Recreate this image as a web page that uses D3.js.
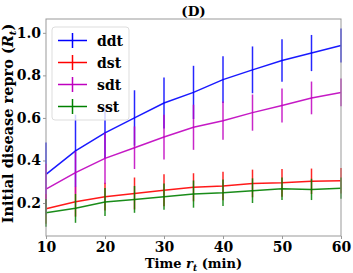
<!DOCTYPE html>
<html>
<head>
<meta charset="utf-8">
<script src="https://cdn.jsdelivr.net/npm/d3@7"></script>
<style>
  body { margin: 0; background: #fff; }
  svg text { font-family: "DejaVu Serif", serif; font-weight: bold; }
</style>
</head>
<body>
<div id="chart"></div>
<script>
// data
var times = [10, 15, 20, 25, 30, 35, 40, 45, 50, 55, 60];
var xTicks = [10, 20, 30, 40, 50, 60];
var yTicks = [0.2, 0.4, 0.6, 0.8, 1.0];

var ddt    = [0.335, 0.445, 0.53, 0.60, 0.67, 0.72, 0.78, 0.826, 0.87, 0.905, 0.94];
var ddtErr = [0.15, 0.17, 0.12, 0.13, 0.12, 0.125, 0.11, 0.11, 0.10, 0.085, 0.08];
var dst    = [0.173, 0.206, 0.23, 0.245, 0.26, 0.274, 0.28, 0.292, 0.295, 0.302, 0.305];
var dstErr = [0.07, 0.07, 0.065, 0.075, 0.075, 0.066, 0.067, 0.065, 0.065, 0.06, 0.06];
var sdt    = [0.265, 0.343, 0.41, 0.46, 0.51, 0.556, 0.587, 0.625, 0.658, 0.694, 0.72];
var sdtErr = [0.12, 0.10, 0.12, 0.10, 0.105, 0.106, 0.09, 0.085, 0.08, 0.077, 0.065];
var sst    = [0.154, 0.175, 0.205, 0.217, 0.23, 0.242, 0.248, 0.258, 0.267, 0.264, 0.27];
var sstErr = [0.065, 0.068, 0.066, 0.063, 0.062, 0.064, 0.062, 0.058, 0.053, 0.05, 0.05];

var series = [
    {name: "ddt", values: ddt, err: ddtErr, color: "#0000ff"},
    {name: "dst", values: dst, err: dstErr, color: "#ff0000"},
    {name: "sdt", values: sdt, err: sdtErr, color: "#bf00bf"},
    {name: "sst", values: sst, err: sstErr, color: "#008000"}
];

var W = 353, H = 273;
var margin = {top: 19, right: 12, bottom: 37, left: 46};
var width = W - margin.left - margin.right,
    height = H - margin.top - margin.bottom;

var svg = d3.select("#chart").append("svg")
    .attr("width", W)
    .attr("height", H);

var g = svg.append("g")
    .attr("transform", "translate(" + margin.left + "," + margin.top + ")");

var x = d3.scaleLinear().domain([10, 60]).range([0, width]);
var y = d3.scaleLinear().domain([0.045, 1.065]).range([height, 0]);

// axes
var xAxis = g.append("g")
    .attr("transform", "translate(0," + height + ")")
    .call(d3.axisBottom(x).tickValues(xTicks).tickSize(3).tickPadding(3).tickFormat(d3.format("d")));
var yAxis = g.append("g")
    .call(d3.axisLeft(y).tickValues(yTicks).tickSize(3).tickPadding(2).tickFormat(d3.format(".1f")));

[xAxis, yAxis].forEach(function(a) {
    a.select(".domain").remove();
    a.selectAll(".tick line").attr("stroke", "#999");
    a.selectAll(".tick text")
        .attr("fill", "#000")
        .style("font-size", "14px")
        .style("font-family", "DejaVu Serif");
});

// series: line then error bars
var line = d3.line()
    .x(function(d, i) { return x(times[i]); })
    .y(function(d) { return y(d); });

var plot = g.append("g");

series.forEach(function(s) {
    var sg = plot.append("g").attr("class", "series");
    sg.append("path")
        .datum(s.values)
        .attr("fill", "none")
        .attr("stroke", s.color)
        .attr("stroke-width", 1.5)
        .attr("stroke-opacity", 0.9)
        .attr("d", line);
    sg.selectAll("line.err")
        .data(s.values)
        .enter().append("line")
        .attr("class", "err")
        .attr("x1", function(d, i) { return x(times[i]); })
        .attr("x2", function(d, i) { return x(times[i]); })
        .attr("y1", function(d, i) { return y(d - s.err[i]); })
        .attr("y2", function(d, i) { return y(d + s.err[i]); })
        .attr("stroke", s.color)
        .attr("stroke-width", 1.5)
        .attr("stroke-opacity", 0.85);
});

// frame
g.append("rect")
    .attr("width", width)
    .attr("height", height)
    .attr("fill", "none")
    .attr("stroke", "#999")
    .attr("stroke-width", 1);

// legend
var legend = g.append("g").attr("transform", "translate(6,8)");
legend.append("rect")
    .attr("width", 77)
    .attr("height", 93)
    .attr("rx", 3)
    .attr("fill", "#fff")
    .attr("fill-opacity", 0.8)
    .attr("stroke", "#ddd");

var item = legend.selectAll("g.item")
    .data(series)
    .enter().append("g")
    .attr("class", "item")
    .attr("transform", function(d, i) { return "translate(0," + (13.5 + i * 22) + ")"; });

item.append("line")
    .attr("x1", 6).attr("x2", 35)
    .attr("stroke", function(d) { return d.color; })
    .attr("stroke-width", 1.5);
item.append("line")
    .attr("x1", 20.5).attr("x2", 20.5)
    .attr("y1", -7.5).attr("y2", 7.5)
    .attr("stroke", function(d) { return d.color; })
    .attr("stroke-width", 1.5);
item.append("text")
    .attr("x", 45)
    .attr("y", 5)
    .style("font-size", "14px")
    .text(function(d) { return d.name; });

// title
svg.append("text")
    .attr("x", margin.left + width / 2)
    .attr("y", 16)
    .attr("text-anchor", "middle")
    .style("font-size", "13.5px")
    .text("(D)");

// x label
var xl = svg.append("text")
    .attr("x", margin.left + width / 2)
    .attr("y", 268)
    .attr("text-anchor", "middle")
    .style("font-size", "13px");
xl.append("tspan").text("Time ");
xl.append("tspan").style("font-style", "italic").text("r");
xl.append("tspan").attr("dy", 3).style("font-style", "italic").style("font-size", "9px").text("t");
xl.append("tspan").attr("dy", -3).text(" (min)");

// y label
var yl = svg.append("text")
    .attr("transform", "translate(13," + (margin.top + height / 2 - 4) + ")rotate(-90)")
    .attr("text-anchor", "middle")
    .style("font-size", "14.5px");
yl.append("tspan").text("Initial disease repro (");
yl.append("tspan").style("font-style", "italic").text("R");
yl.append("tspan").attr("dy", 3).style("font-style", "italic").style("font-size", "10px").text("t");
yl.append("tspan").attr("dy", -3).text(")");
</script>
</body>
</html>
